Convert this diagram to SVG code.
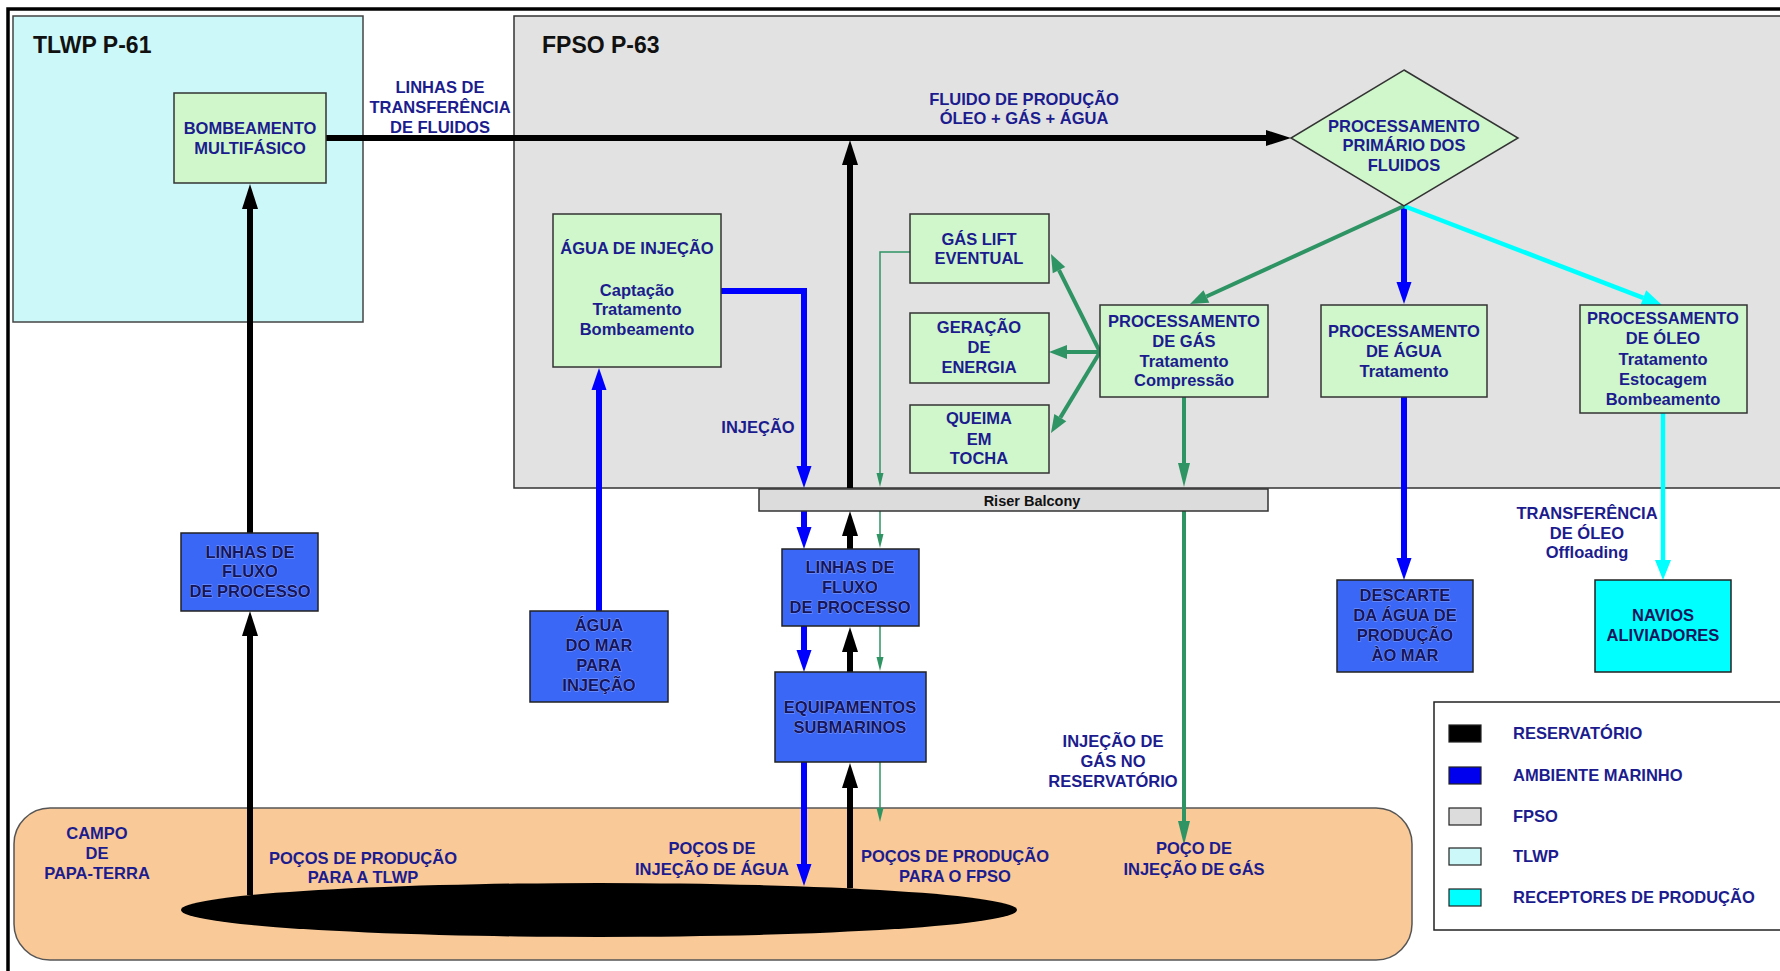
<svg xmlns="http://www.w3.org/2000/svg" width="1780" height="971" viewBox="0 0 1780 971">
<defs>
<style>
text{font-family:"Liberation Sans",Arial,sans-serif;font-weight:bold;font-size:16.5px;fill:#1c1c8e;text-anchor:middle}
.title{font-size:23px;fill:#111;text-anchor:start}
.tb{fill:#15155c;stroke:#86a0ff;stroke-width:0.9px;paint-order:stroke fill}
.lg{text-anchor:start}
.gbox{fill:#cff7cb;stroke:#333;stroke-width:1.5}
.bbox{fill:#3a67f5;stroke:#222;stroke-width:1.5}
.blk{fill:none;stroke:#000;stroke-width:6}
.blu{fill:none;stroke:#0000ff;stroke-width:6}
.grn{fill:none;stroke:#2f9464;stroke-width:4}
.thin{fill:none;stroke:#2f9464;stroke-width:1.5}
.cyn{fill:none;stroke:#00ffff;stroke-width:4.5}
</style>
<marker id="mBlk" markerUnits="userSpaceOnUse" markerWidth="25" markerHeight="16" refX="0" refY="8" orient="auto" overflow="visible"><path d="M0,0 L25,8 L0,16 z" fill="#000"/></marker>
<marker id="mBlu" markerUnits="userSpaceOnUse" markerWidth="22" markerHeight="15" refX="0" refY="7.5" orient="auto" overflow="visible"><path d="M0,0 L22,7.5 L0,15 z" fill="#0000ff"/></marker>
<marker id="mGrn" markerUnits="userSpaceOnUse" markerWidth="18" markerHeight="14" refX="0" refY="7" orient="auto" overflow="visible"><path d="M0,0 L18,7 L0,14 z" fill="#2f9464"/></marker>
<marker id="mGrnV" markerUnits="userSpaceOnUse" markerWidth="24" markerHeight="12" refX="0" refY="6" orient="auto" overflow="visible"><path d="M0,0 L24,6 L0,12 z" fill="#2f9464"/></marker>
<marker id="mThin" markerUnits="userSpaceOnUse" markerWidth="14" markerHeight="7" refX="0" refY="3.5" orient="auto" overflow="visible"><path d="M0,0 L14,3.5 L0,7 z" fill="#2f9464"/></marker>
<marker id="mCyn" markerUnits="userSpaceOnUse" markerWidth="20" markerHeight="16" refX="0" refY="8" orient="auto" overflow="visible"><path d="M0,0 L20,8 L0,16 z" fill="#00ffff"/></marker>
</defs>

<rect x="0" y="0" width="1780" height="971" fill="#fff"/>
<rect x="8" y="9" width="1800" height="1000" fill="#fff" stroke="#000" stroke-width="3.5"/>

<g id="tlwp">
<rect x="13" y="16" width="350" height="306" fill="#ccf8fa" stroke="#444" stroke-width="1.5"/>
<text class="title" x="33" y="53">TLWP P-61</text>
</g>

<g id="fpso">
<rect x="514" y="16" width="1300" height="472" fill="#e2e2e2" stroke="#333" stroke-width="1.5"/>
<text class="title" x="542" y="53">FPSO P-63</text>
</g>

<g id="campo">
<rect x="14" y="808" width="1398" height="152" rx="36" ry="36" fill="#f9c998" stroke="#555" stroke-width="1.5"/>
<ellipse cx="599" cy="910" rx="418" ry="27" fill="#000"/>
<text x="97" y="839">CAMPO</text>
<text x="97" y="859">DE</text>
<text x="97" y="879">PAPA-TERRA</text>
</g>

<g id="legenda">
<rect x="1434" y="702" width="400" height="228" fill="#fff" stroke="#222" stroke-width="1.5"/>
<rect x="1449" y="725" width="32" height="17" fill="#000" stroke="#222" stroke-width="1.2"/>
<rect x="1449" y="767" width="32" height="17" fill="#0000ee" stroke="#222" stroke-width="1.2"/>
<rect x="1449" y="808" width="32" height="17" fill="#dcdcdc" stroke="#222" stroke-width="1.2"/>
<rect x="1449" y="848" width="32" height="17" fill="#ccf8fa" stroke="#222" stroke-width="1.2"/>
<rect x="1449" y="889" width="32" height="17" fill="#00ffff" stroke="#222" stroke-width="1.2"/>
<text class="lg" x="1513" y="739">RESERVATÓRIO</text>
<text class="lg" x="1513" y="781">AMBIENTE MARINHO</text>
<text class="lg" x="1513" y="822">FPSO</text>
<text class="lg" x="1513" y="862">TLWP</text>
<text class="lg" x="1513" y="903">RECEPTORES DE PRODUÇÃO</text>
</g>

<g id="connectors">
<path class="blk" d="M326,138 H1266" marker-end="url(#mBlk)"/>
<path class="blk" d="M850,488 V165" marker-end="url(#mBlk)"/>
<path class="blk" d="M250,895 V636" marker-end="url(#mBlk)"/>
<path class="blk" d="M250,533 V209" marker-end="url(#mBlk)"/>
<path class="blk" d="M850,549 V536" marker-end="url(#mBlk)"/>
<path class="blk" d="M850,672 V652" marker-end="url(#mBlk)"/>
<path class="blk" d="M850,888 V788" marker-end="url(#mBlk)"/>
<path class="blu" d="M721,291 H804 V466" marker-end="url(#mBlu)"/>
<path class="blu" d="M804,511 V527" marker-end="url(#mBlu)"/>
<path class="blu" d="M804,626 V650" marker-end="url(#mBlu)"/>
<path class="blu" d="M804,762 V864" marker-end="url(#mBlu)"/>
<path class="blu" d="M599,611 V390" marker-end="url(#mBlu)"/>
<path class="blu" d="M1404,206 V282" marker-end="url(#mBlu)"/>
<path class="blu" d="M1404,397 V558" marker-end="url(#mBlu)"/>
<path class="cyn" d="M1404,206 L1643.3,297.8" marker-end="url(#mCyn)"/>
<path class="cyn" d="M1663,413 V560" marker-end="url(#mCyn)"/>
<path class="grn" d="M1404,206 L1206.4,296.5" marker-end="url(#mGrn)"/>
<path class="grn" d="M1100,352 L1059,270.1" marker-end="url(#mGrn)"/>
<path class="grn" d="M1100,352 L1067,352" marker-end="url(#mGrn)"/>
<path class="grn" d="M1100,352 L1060.3,417.6" marker-end="url(#mGrn)"/>
<path class="grn" d="M1184,397 V463" marker-end="url(#mGrnV)"/>
<path class="grn" d="M1184,511 V821" marker-end="url(#mGrnV)"/>
<path class="thin" d="M910,252 H880 V473" marker-end="url(#mThin)"/>
<path class="thin" d="M880,511 V534" marker-end="url(#mThin)"/>
<path class="thin" d="M880,626 V657" marker-end="url(#mThin)"/>
<path class="thin" d="M880,762 V808" marker-end="url(#mThin)"/>
<text x="440" y="93">LINHAS DE</text>
<text x="440" y="113">TRANSFERÊNCIA</text>
<text x="440" y="133">DE FLUIDOS</text>
<text x="1024" y="105">FLUIDO DE PRODUÇÃO</text>
<text x="1024" y="124">ÓLEO + GÁS + ÁGUA</text>
<text x="758" y="433">INJEÇÃO</text>
<text x="1587" y="519">TRANSFERÊNCIA</text>
<text x="1587" y="539">DE ÓLEO</text>
<text x="1587" y="558">Offloading</text>
<text x="1113" y="747">INJEÇÃO DE</text>
<text x="1113" y="767">GÁS NO</text>
<text x="1113" y="787">RESERVATÓRIO</text>
<text x="363" y="864">POÇOS DE PRODUÇÃO</text>
<text x="363" y="883">PARA A TLWP</text>
<text x="712" y="854">POÇOS DE</text>
<text x="712" y="875">INJEÇÃO DE ÁGUA</text>
<text x="955" y="862">POÇOS DE PRODUÇÃO</text>
<text x="955" y="882">PARA O FPSO</text>
<text x="1194" y="854">POÇO DE</text>
<text x="1194" y="875">INJEÇÃO DE GÁS</text>
</g>

<g id="riser-balcony">
<rect x="759" y="489" width="509" height="22" fill="#dcdcdc" stroke="#333" stroke-width="1.5"/>
<text x="1032" y="506" style="font-size:14.5px;fill:#111">Riser Balcony</text>
</g>

<g id="bombeamento">
<rect class="gbox" x="174" y="93" width="152" height="90"/>
<text x="250" y="134">BOMBEAMENTO</text>
<text x="250" y="154">MULTIFÁSICO</text>
</g>

<g id="processamento-primario">
<polygon points="1404,70 1518,138 1404,206 1291,138" fill="#cff7cb" stroke="#333" stroke-width="1.5"/>
<text x="1404" y="132">PROCESSAMENTO</text>
<text x="1404" y="151">PRIMÁRIO DOS</text>
<text x="1404" y="171">FLUIDOS</text>
</g>

<g id="agua-injecao">
<rect class="gbox" x="553" y="214" width="168" height="153"/>
<text x="637" y="254">ÁGUA DE INJEÇÃO</text>
<text x="637" y="296">Captação</text>
<text x="637" y="315">Tratamento</text>
<text x="637" y="335">Bombeamento</text>
</g>

<g id="gas-lift">
<rect class="gbox" x="910" y="214" width="139" height="69"/>
<text x="979" y="245">GÁS LIFT</text>
<text x="979" y="264">EVENTUAL</text>
</g>

<g id="geracao-energia">
<rect class="gbox" x="910" y="313" width="139" height="70"/>
<text x="979" y="333">GERAÇÃO</text>
<text x="979" y="353">DE</text>
<text x="979" y="373">ENERGIA</text>
</g>

<g id="queima-tocha">
<rect class="gbox" x="910" y="405" width="139" height="68"/>
<text x="979" y="424">QUEIMA</text>
<text x="979" y="445">EM</text>
<text x="979" y="464">TOCHA</text>
</g>

<g id="processamento-gas">
<rect class="gbox" x="1100" y="305" width="168" height="92"/>
<text x="1184" y="327">PROCESSAMENTO</text>
<text x="1184" y="347">DE GÁS</text>
<text x="1184" y="367">Tratamento</text>
<text x="1184" y="386">Compressão</text>
</g>

<g id="processamento-agua">
<rect class="gbox" x="1321" y="305" width="166" height="92"/>
<text x="1404" y="337">PROCESSAMENTO</text>
<text x="1404" y="357">DE ÁGUA</text>
<text x="1404" y="377">Tratamento</text>
</g>

<g id="processamento-oleo">
<rect class="gbox" x="1580" y="305" width="167" height="108"/>
<text x="1663" y="324">PROCESSAMENTO</text>
<text x="1663" y="344">DE ÓLEO</text>
<text x="1663" y="365">Tratamento</text>
<text x="1663" y="385">Estocagem</text>
<text x="1663" y="405">Bombeamento</text>
</g>

<g id="linhas-fluxo-tlwp">
<rect class="bbox" x="181" y="533" width="137" height="78"/>
<text class="tb" x="250" y="558">LINHAS DE</text>
<text class="tb" x="250" y="577">FLUXO</text>
<text class="tb" x="250" y="597">DE PROCESSO</text>
</g>

<g id="agua-do-mar">
<rect class="bbox" x="530" y="611" width="138" height="91"/>
<text class="tb" x="599" y="631">ÁGUA</text>
<text class="tb" x="599" y="651">DO MAR</text>
<text class="tb" x="599" y="671">PARA</text>
<text class="tb" x="599" y="691">INJEÇÃO</text>
</g>

<g id="linhas-fluxo-fpso">
<rect class="bbox" x="782" y="549" width="137" height="77"/>
<text class="tb" x="850" y="573">LINHAS DE</text>
<text class="tb" x="850" y="593">FLUXO</text>
<text class="tb" x="850" y="613">DE PROCESSO</text>
</g>

<g id="equipamentos-submarinos">
<rect class="bbox" x="775" y="672" width="151" height="90"/>
<text class="tb" x="850" y="713">EQUIPAMENTOS</text>
<text class="tb" x="850" y="733">SUBMARINOS</text>
</g>

<g id="descarte">
<rect class="bbox" x="1337" y="580" width="136" height="92"/>
<text class="tb" x="1405" y="601">DESCARTE</text>
<text class="tb" x="1405" y="621">DA ÁGUA DE</text>
<text class="tb" x="1405" y="641">PRODUÇÃO</text>
<text class="tb" x="1405" y="661">ÀO MAR</text>
</g>

<g id="navios">
<rect x="1595" y="580" width="136" height="92" fill="#00ffff" stroke="#222" stroke-width="1.5"/>
<text x="1663" y="621" style="fill:#15155c">NAVIOS</text>
<text x="1663" y="641" style="fill:#15155c">ALIVIADORES</text>
</g>
</svg>
